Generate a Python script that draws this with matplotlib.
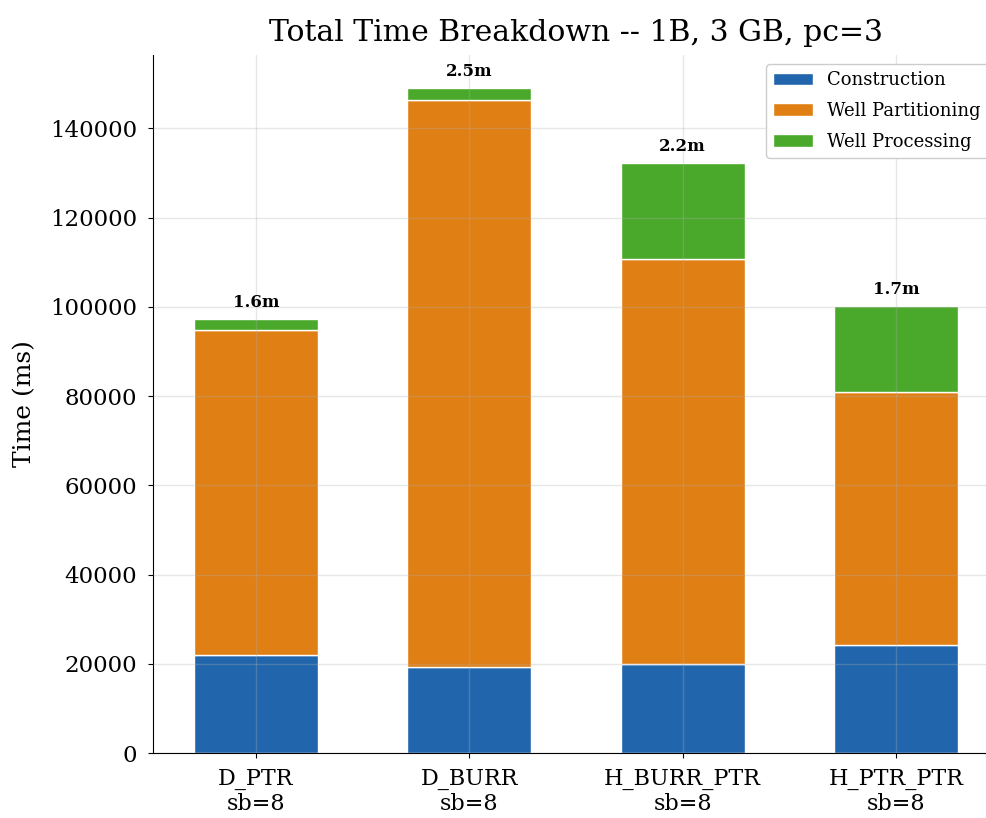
import matplotlib
matplotlib.use("Agg")
import matplotlib.pyplot as plt
import numpy as np

categories = ["D_PTR\nsb=8", "D_BURR\nsb=8", "H_BURR_PTR\nsb=8", "H_PTR_PTR\nsb=8"]
construction = [21950, 19260, 19940, 24190]
partitioning = [72810, 127020, 90720, 56680]
processing = [2460, 2690, 21510, 19260]
series_names = ["Construction", "Well Partitioning", "Well Processing"]
colors = ["#2166ac", "#e07f14", "#4aa82a"]

plt.rcParams['font.family'] = ['DejaVu Serif']

fig = plt.figure(figsize=(9.87, 8.18), dpi=100)
ax = fig.add_axes([153/987, 65/818, 846/987, 698/818])

x = np.arange(len(categories))
w = 0.58
bottom = np.zeros(len(categories))
for vals, name, c in zip([construction, partitioning, processing], series_names, colors):
    ax.bar(x, vals, w, bottom=bottom, color=c, edgecolor='white', linewidth=1, label=name, zorder=2)
    bottom = bottom + np.array(vals)

for xi, tot in zip(x, bottom):
    ax.annotate(f"{tot/60000:.1f}m", (xi, tot), xytext=(0, 6), textcoords='offset points',
                ha='center', va='bottom', fontsize=12, fontweight='bold')

ax.set_xlim(-0.483, len(categories) - 1 + 0.483)
ax.set_ylim(0, bottom.max() * 1.05)
ax.set_xticks(x)
ax.set_xticklabels(categories, fontsize=16)
ax.tick_params(axis='x', pad=7)
ax.tick_params(axis='y', labelsize=16.5, pad=8)
ax.set_ylabel("Time (ms)", fontsize=18, labelpad=10)
ax.set_title("Total Time Breakdown -- 1B, 3 GB, pc=3", fontsize=21.5, pad=10)
ax.grid(True, color='#b0b0b0', alpha=0.3, linewidth=1, zorder=3)
ax.set_axisbelow(False)
ax.spines['top'].set_visible(False)
ax.spines['right'].set_visible(False)
ax.legend(loc='upper right', bbox_to_anchor=(0.998, 1.0), fontsize=13, framealpha=1,
          edgecolor='#cccccc', handlelength=2.2, labelspacing=0.7)

fig.savefig("out.png", dpi=100)
